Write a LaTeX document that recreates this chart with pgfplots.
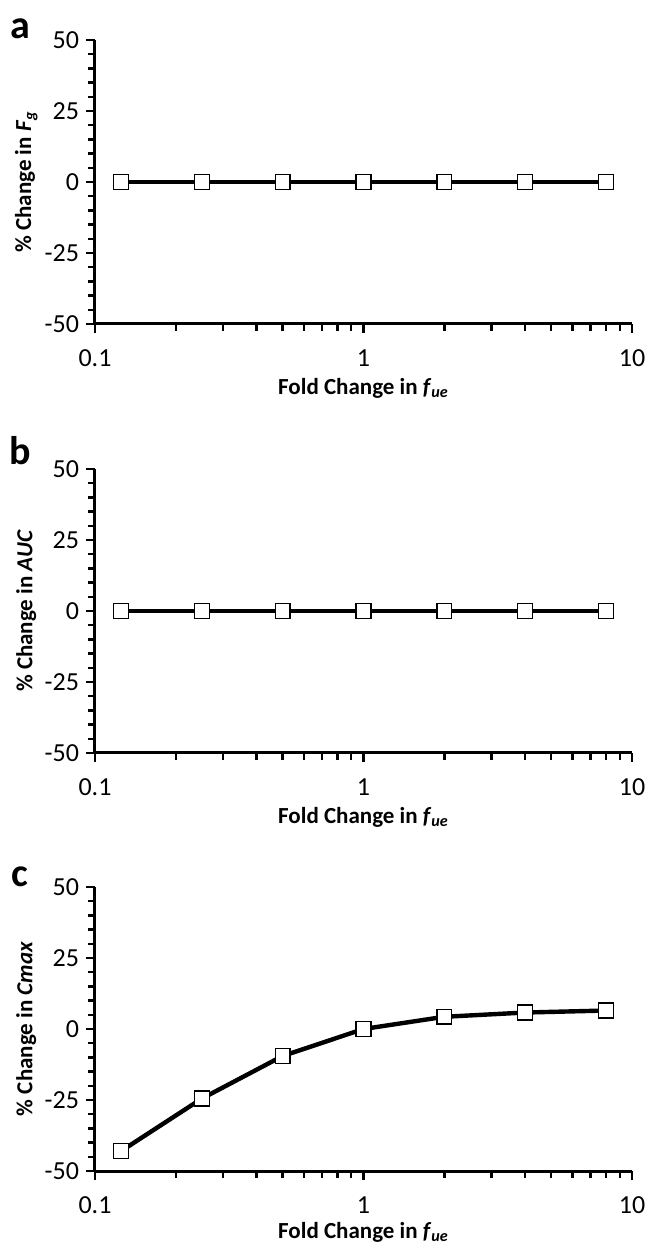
\documentclass[border=0pt]{standalone}
\usepackage{fontspec}
\setmainfont{Carlito}
\usepackage{pgfplots}
\pgfplotsset{compat=1.18}
\pgfplotsset{
  every axis/.append style={
    scale only axis,
    width=268.5pt, height=142pt,
    xmin=0.1, xmax=10,
    ymin=-50, ymax=50,
    xtick={0.1,1,10}, xticklabels={0.1,1,10},
    ytick={-50,-25,0,25,50},
    minor y tick num=4,
    axis lines*=left,
    axis line style={line width=1.5pt},
    tick style={line width=1.2pt, black},
    major tick length=4.5pt, minor tick length=3.5pt,
    tick align=outside,
    /pgf/number format/assume math mode=true,
    ticklabel style={font=\fontsize{13}{15}\selectfont},
    xticklabel style={yshift=-5pt},
    yticklabel style={xshift=0pt},
    label style={font=\bfseries\fontsize{11.5}{13}\selectfont},
    xlabel style={at={(axis description cs:0.5,0)}, anchor=center, yshift=-32pt},
    ylabel style={at={(axis description cs:-0.128,0.5)}, anchor=center},
    xlabel={Fold Change in \textit{f}\textsubscript{\textit{ue}}},
    clip=false,
  },
}
\tikzset{
  myplot/.style={black, line width=2.2pt, mark=square*, mark size=3.7pt,
    mark options={fill=white, draw=black, line width=0.7pt, solid}},
}
\begin{document}
\begin{tikzpicture}
\useasboundingbox (0,0) rectangle (323pt,622.5pt);
% panel a
\begin{semilogxaxis}[at={(47.5pt,460.5pt)}, anchor=south west,
  ylabel={\% Change in \textit{F}\textsubscript{\textit{g}}}]
\addplot[myplot] coordinates {(0.125,0) (0.25,0) (0.5,0) (1,0) (2,0) (4,0) (8,0)};
\end{semilogxaxis}
% panel b
\begin{semilogxaxis}[at={(47.5pt,246pt)}, anchor=south west,
  ylabel={\% Change in \textit{AUC}}]
\addplot[myplot] coordinates {(0.125,0) (0.25,0) (0.5,0) (1,0) (2,0) (4,0) (8,0)};
\end{semilogxaxis}
% panel c
\begin{semilogxaxis}[at={(47.5pt,37pt)}, anchor=south west,
  xlabel style={yshift=1.5pt},
  ylabel={\% Change in \textit{Cmax}}]
\addplot[myplot] coordinates {(0.125,-43) (0.25,-24.5) (0.5,-9.5) (1,0) (2,4.3) (4,5.8) (8,6.5)};
\end{semilogxaxis}
\node[font=\bfseries\fontsize{20}{22}\selectfont] at (10pt,608pt) {a};
\node[font=\bfseries\fontsize{20}{22}\selectfont] at (10pt,397pt) {b};
\node[font=\bfseries\fontsize{20}{22}\selectfont] at (10pt,184pt) {c};
\end{tikzpicture}
\end{document}
